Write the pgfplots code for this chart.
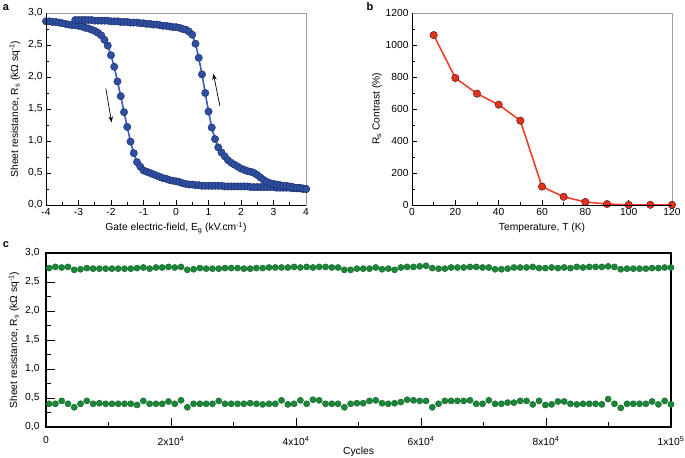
\documentclass[border=0pt]{standalone}
\usepackage{fontspec}
\setmainfont{Liberation Sans}
\usepackage{pgfplots}
\usepackage{pgfplotstable}
\pgfplotsset{compat=1.18}
\usetikzlibrary{arrows.meta}

\definecolor{bluefill}{HTML}{2F4FA2}
\definecolor{blueedge}{HTML}{1B2C66}
\definecolor{blueline}{HTML}{3A5CC6}
\definecolor{redfill}{HTML}{E3321F}
\definecolor{rededge}{HTML}{5A1A12}
\definecolor{redline}{HTML}{EE3F2B}
\definecolor{greenfill}{HTML}{1A8838}
\definecolor{greenedge}{HTML}{135F28}
\definecolor{framegray}{HTML}{A0A0A0}

\pgfplotstableread{
x y
-4.0 2.87
-3.9 2.87
-3.8 2.86
-3.7 2.86
-3.6 2.85
-3.5 2.84
-3.4 2.83
-3.3 2.82
-3.2 2.81
-3.1 2.81
-3.0 2.80
-2.9 2.79
-2.8 2.77
-2.7 2.76
-2.6 2.74
-2.5 2.72
-2.4 2.69
-2.3 2.65
-2.2 2.58
-2.1 2.49
-2.0 2.34
-1.9 2.16
-1.8 1.93
-1.7 1.70
-1.6 1.45
-1.5 1.22
-1.4 0.99
-1.3 0.81
-1.2 0.67
-1.1 0.60
-1.0 0.54
-0.9 0.52
-0.8 0.50
-0.7 0.48
-0.6 0.46
-0.5 0.44
-0.4 0.42
-0.3 0.41
-0.2 0.39
-0.1 0.38
0.0 0.37
0.1 0.36
0.2 0.34
0.3 0.33
0.4 0.32
0.5 0.32
0.6 0.31
0.7 0.31
0.8 0.30
0.9 0.30
1.0 0.30
1.1 0.30
1.2 0.30
1.3 0.30
1.4 0.30
1.5 0.29
1.6 0.29
1.7 0.29
1.8 0.29
1.9 0.29
2.0 0.29
2.1 0.29
2.2 0.29
2.3 0.28
2.4 0.28
2.5 0.28
2.6 0.28
2.7 0.28
2.8 0.28
2.9 0.28
3.0 0.28
3.1 0.27
3.2 0.27
3.3 0.27
3.4 0.27
3.5 0.27
3.6 0.26
3.7 0.26
3.8 0.26
3.9 0.25
4.0 0.25
}\branchdown

\pgfplotstableread{
x y
-3.1 2.89
-3.0 2.89
-2.9 2.89
-2.8 2.89
-2.7 2.89
-2.6 2.89
-2.5 2.88
-2.4 2.88
-2.3 2.88
-2.2 2.88
-2.1 2.88
-2.0 2.87
-1.9 2.87
-1.8 2.87
-1.7 2.86
-1.6 2.86
-1.5 2.86
-1.4 2.85
-1.3 2.85
-1.2 2.85
-1.1 2.84
-1.0 2.84
-0.9 2.83
-0.8 2.83
-0.7 2.82
-0.6 2.82
-0.5 2.81
-0.4 2.80
-0.3 2.80
-0.2 2.79
-0.1 2.78
0.0 2.78
0.1 2.77
0.2 2.75
0.3 2.74
0.4 2.71
0.5 2.66
0.6 2.52
0.7 2.30
0.8 2.04
0.9 1.75
1.0 1.46
1.1 1.21
1.2 1.03
1.3 0.90
1.4 0.82
1.5 0.76
1.6 0.70
1.7 0.66
1.8 0.63
1.9 0.60
2.0 0.57
2.1 0.55
2.2 0.53
2.3 0.52
2.4 0.50
2.5 0.47
2.6 0.43
2.7 0.39
2.8 0.36
2.9 0.34
3.0 0.33
3.1 0.32
3.2 0.31
3.3 0.30
3.4 0.30
3.5 0.29
3.6 0.28
3.7 0.27
3.8 0.27
3.9 0.26
4.0 0.25
}\branchup

\pgfplotstableread{
T c
10 1062
20 794
30 696
40 627
50 527
60 115
70 51
80 19
90 6
100 1
110 1
120 1
}\contrast

\pgfplotstableread{
x lo hi
500 0.40 2.74
1505 0.40 2.76
2510 0.45 2.75
3515 0.40 2.76
4520 0.34 2.71
5525 0.40 2.72
6530 0.45 2.74
7535 0.40 2.73
8540 0.41 2.73
9545 0.40 2.73
10550 0.40 2.73
11555 0.40 2.73
12560 0.40 2.73
13565 0.40 2.73
14570 0.38 2.74
15575 0.45 2.75
16580 0.40 2.73
17585 0.40 2.75
18590 0.40 2.75
19595 0.44 2.76
20600 0.40 2.75
21605 0.46 2.76
22610 0.34 2.71
23615 0.40 2.72
24620 0.40 2.74
25625 0.40 2.73
26630 0.40 2.73
27635 0.45 2.73
28640 0.40 2.74
29645 0.40 2.74
30650 0.40 2.74
31655 0.40 2.73
32660 0.41 2.73
33665 0.40 2.74
34670 0.39 2.74
35675 0.40 2.75
36680 0.40 2.75
37685 0.46 2.75
38690 0.39 2.75
39695 0.40 2.76
40700 0.46 2.75
41705 0.40 2.76
42710 0.47 2.75
43715 0.46 2.76
44720 0.40 2.76
45725 0.40 2.75
46730 0.40 2.75
47735 0.34 2.71
48740 0.40 2.71
49745 0.41 2.73
50750 0.41 2.73
51755 0.45 2.73
52760 0.46 2.75
53765 0.41 2.72
54770 0.40 2.73
55775 0.41 2.71
56780 0.43 2.75
57785 0.47 2.76
58790 0.46 2.76
59795 0.45 2.77
60800 0.45 2.78
61805 0.34 2.74
62810 0.40 2.73
63815 0.45 2.73
64820 0.45 2.75
65825 0.45 2.75
66830 0.45 2.75
67835 0.46 2.76
68840 0.40 2.76
69845 0.40 2.75
70850 0.46 2.75
71855 0.40 2.72
72860 0.40 2.72
73865 0.42 2.73
74870 0.42 2.75
75875 0.45 2.75
76880 0.45 2.75
77885 0.39 2.76
78890 0.45 2.74
79895 0.38 2.74
80900 0.39 2.75
81905 0.44 2.74
82910 0.44 2.75
83915 0.40 2.74
84920 0.39 2.76
85925 0.40 2.75
86930 0.40 2.76
87935 0.40 2.76
88940 0.39 2.76
89945 0.48 2.77
90950 0.40 2.76
91955 0.33 2.72
92960 0.40 2.73
93965 0.40 2.73
94970 0.40 2.73
95975 0.40 2.73
96980 0.44 2.74
97985 0.39 2.74
98990 0.45 2.75
99995 0.39 2.75
}\cycles

\pgfplotsset{
  panel/.style={
    scale only axis,
    font=\fontsize{10.3}{12}\selectfont,
    /pgf/number format/assume math mode=true,
    /pgf/number format/1000 sep={},
    tick align=inside,
    xtick pos=bottom, ytick pos=left,
    major tick length=5bp, minor tick length=3bp,
    every tick/.style={black, line width=0.6pt},
    axis line style={framegray, line width=0.6pt},
    after end axis/.code={
      \draw[black, line width=0.8pt] (rel axis cs:0,1) -- (rel axis cs:0,0) -- (rel axis cs:1,0);
    },
  },
  commay/.style={
    yticklabel style={/pgf/number format/use comma, /pgf/number format/fixed, /pgf/number format/fixed zerofill, /pgf/number format/precision=1},
  },
}

\begin{document}
\begin{tikzpicture}

% ---------- panel a ----------
\begin{axis}[panel, commay,
  at={(46bp,253bp)}, anchor=south west,
  width=260bp, height=192bp,
  xmin=-4, xmax=4, ymin=0, ymax=3,
  xtick={-4,-3,-2,-1,0,1,2,3,4}, minor x tick num=1,
  ytick={0,0.5,1,1.5,2,2.5,3}, minor y tick num=1,
  xlabel={Gate electric-field, E\textsubscript{g} (kV.cm\textsuperscript{-1})},
  ylabel={Sheet resistance, R\textsubscript{s} (kΩ sq\textsuperscript{-1})},
  xlabel style={at={(axis description cs:0.5,-0.12)}, anchor=center},
  ylabel style={at={(axis description cs:-0.12,0.5)}, anchor=center},
]
\addplot[blueline, line width=1.6pt, mark=*, mark size=3.7bp,
  mark options={fill=bluefill, draw=blueedge, line width=0.4pt, solid}] table[x=x,y=y] {\branchdown};
\addplot[blueline, line width=1.6pt, mark=*, mark size=3.7bp,
  mark options={fill=bluefill, draw=blueedge, line width=0.4pt, solid}] table[x=x,y=y] {\branchup};
\draw[-{Stealth[length=6bp,width=4.5bp]}, black, line width=0.7pt] (axis cs:-2.16,1.82) -- (axis cs:-1.98,1.29);
\draw[-{Stealth[length=6bp,width=4.5bp]}, black, line width=0.7pt] (axis cs:1.35,1.55) -- (axis cs:1.15,2.05);
\end{axis}

% ---------- panel b ----------
\begin{axis}[panel,
  at={(412bp,253bp)}, anchor=south west,
  width=260bp, height=192bp,
  xmin=0, xmax=120, ymin=0, ymax=1200,
  xtick={0,20,...,120}, minor x tick num=1,
  ytick={0,200,...,1200}, minor y tick num=1,
  xlabel={Temperature, T (K)},
  ylabel={R\textsubscript{s} Contrast (\%)},
  xlabel style={at={(axis description cs:0.5,-0.12)}, anchor=center},
  ylabel style={at={(axis description cs:-0.135,0.5)}, anchor=center},
]
\addplot[redline, line width=1.6pt, mark=*, mark size=3.7bp,
  mark options={fill=redfill, draw=rededge, line width=0.5pt, solid}] table[x=T,y=c] {\contrast};
\end{axis}

% ---------- panel c ----------
\begin{axis}[panel, commay,
  at={(46bp,31bp)}, anchor=south west,
  width=625bp, height=174bp,
  axis line style={black, line width=1.2pt},
  after end axis/.code={},
  major tick length=9bp, minor tick length=5bp,
  every tick/.style={black, line width=1pt},
  xmin=0, xmax=100000, ymin=0, ymax=3,
  xtick={0,20000,40000,60000,80000,100000},
  xticklabels={0, 2x10\textsuperscript{4}, 4x10\textsuperscript{4}, 6x10\textsuperscript{4}, 8x10\textsuperscript{4}, 1x10\textsuperscript{5}},
  scaled x ticks=false,
  minor x tick num=1,
  ytick={0,0.5,1,1.5,2,2.5,3}, minor y tick num=1,
  xticklabel style={yshift=-6bp},
  yticklabel style={xshift=-3bp},
  xlabel={Cycles},
  ylabel={Sheet resistance, R\textsubscript{s} (kΩ sq\textsuperscript{-1})},
  xlabel style={at={(axis description cs:0.5,-0.144)}, anchor=center},
  ylabel style={at={(axis description cs:-0.0512,0.5)}, anchor=center},
]
\addplot[only marks, mark=*, mark size=3.1bp,
  mark options={fill=greenfill, draw=greenedge, line width=0.4pt}] table[x=x,y=hi] {\cycles};
\addplot[only marks, mark=*, mark size=3.1bp,
  mark options={fill=greenfill, draw=greenedge, line width=0.4pt}] table[x=x,y=lo] {\cycles};
\end{axis}

\node[font=\bfseries\fontsize{11}{13}\selectfont] at (6bp,450bp) {a};
\node[font=\bfseries\fontsize{11}{13}\selectfont] at (370bp,451bp) {b};
\node[font=\bfseries\fontsize{11}{13}\selectfont] at (6bp,213bp) {c};

\pgfresetboundingbox
\path (0,0) rectangle (685bp,458bp);
\end{tikzpicture}
\end{document}
